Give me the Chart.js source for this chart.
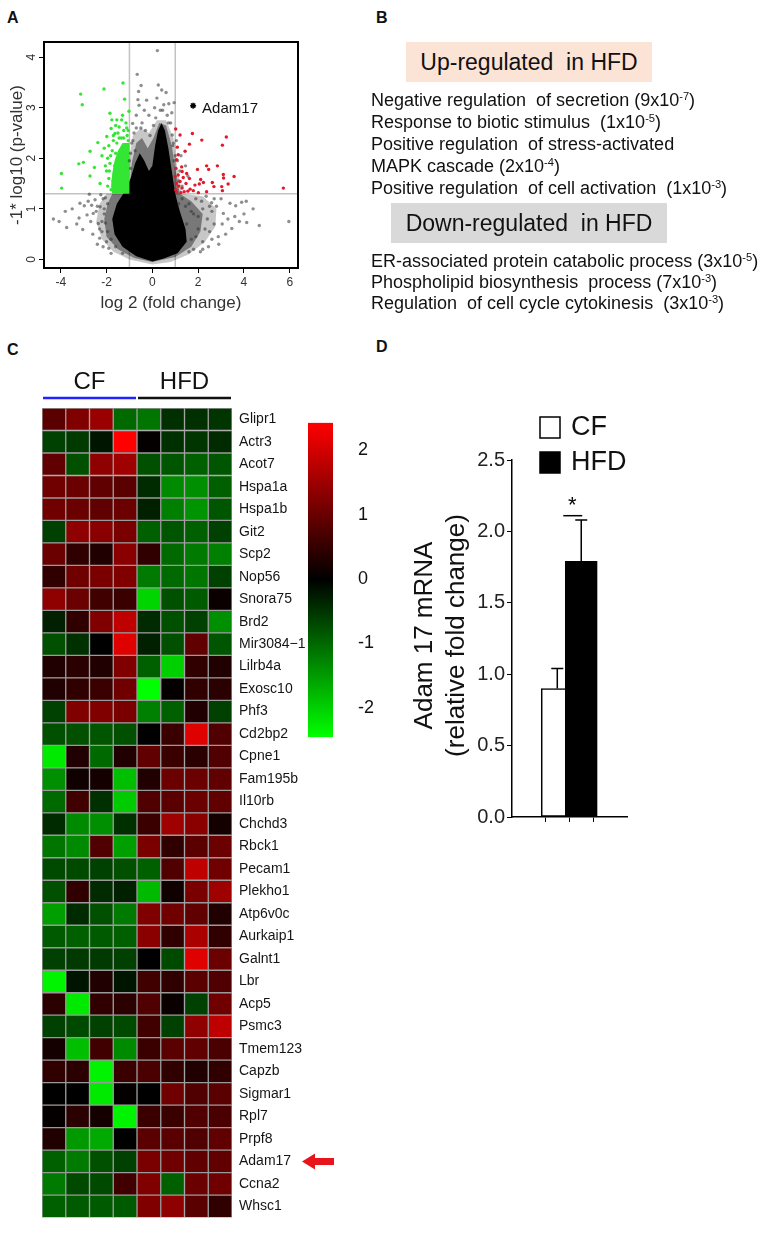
<!DOCTYPE html>
<html>
<head>
<meta charset="utf-8">
<script src="https://cdn.jsdelivr.net/npm/chart.js"></script>
<style>
body { margin: 0; background: #fff; font-family: "Liberation Sans", Arial, sans-serif; color: #111; }
#page { position: relative; width: 765px; height: 1233px; overflow: hidden; }
.box { position: absolute; }
.plabel { position: absolute; font-weight: bold; font-size: 16px; line-height: 18px; }
.head { position: absolute; height: 40px; line-height: 40px; text-align: center; font-size: 23px; }
.terms { position: absolute; left: 371px; font-size: 18px; white-space: nowrap; }
.terms div { height: 22px; line-height: 22px; }
sup { font-size: 0.62em; line-height: 0; vertical-align: 0.55em; }
</style>
</head>
<body>
<div id="page">
  <div class="plabel" style="left:7px;top:9px">A</div>
  <div class="plabel" style="left:376px;top:9px">B</div>
  <div class="plabel" style="left:7px;top:341px">C</div>
  <div class="plabel" style="left:376px;top:338px">D</div>

  <div class="box" style="left:0;top:0"><canvas id="volcano" width="380" height="320"></canvas></div>

  <div class="head" style="left:406px;top:42px;width:246px;background:#fbe4d6">Up-regulated&nbsp; in HFD</div>
  <div class="terms" style="top:89px">
    <div>Negative regulation&nbsp; of secretion (9x10<sup>-7</sup>)</div>
    <div>Response to biotic stimulus&nbsp; (1x10<sup>-5</sup>)</div>
    <div>Positive regulation&nbsp; of stress-activated</div>
    <div>MAPK cascade (2x10<sup>-4</sup>)</div>
    <div>Positive regulation&nbsp; of cell activation&nbsp; (1x10<sup>-3</sup>)</div>
  </div>
  <div class="head" style="left:391px;top:203px;width:276px;background:#d9d9d9">Down-regulated&nbsp; in HFD</div>
  <div class="terms" style="top:251px">
    <div style="height:21px;line-height:21px">ER-associated protein catabolic process (3x10<sup>-5</sup>)</div>
    <div style="height:21px;line-height:21px">Phospholipid biosynthesis&nbsp; process (7x10<sup>-3</sup>)</div>
    <div style="height:21px;line-height:21px">Regulation&nbsp; of cell cycle cytokinesis&nbsp; (3x10<sup>-3</sup>)</div>
  </div>

  <div class="box" style="left:0;top:360px"><canvas id="heatmap" width="340" height="873"></canvas></div>
  <div class="box" style="left:290px;top:395px"><canvas id="colorbar" width="90" height="370"></canvas></div>
  <div class="box" style="left:380px;top:320px"><canvas id="bars" width="385" height="520"></canvas></div>
</div>

<script>
const FONT = '"Liberation Sans", Arial, sans-serif';
Chart.defaults.font.family = FONT;
Chart.defaults.color = '#111';

// ---------- A: volcano ----------
const xTicksA = [-4, -2, 0, 2, 4, 6];
const yTicksA = [0, 1, 2, 3, 4];
const foldCut = [-1, 1];
const pCut = 1.3;

// log2 fold change, -log10 p
const grayPoints = [
  [0.22,4.13],[-0.66,3.66],[-0.49,3.44],[-0.6,3.32],[-0.63,3.16],[-0.58,3.05],[-0.86,2.69],[-0.8,2.5],
  [0.26,3.45],[0.41,3.35],[0.2,3.19],[0.5,3.06],[0.72,3.08],[0.95,3.1],[0.87,2.46],[0.65,2.85],
  [0.8,2.7],[0.1,3.0],[-0.15,2.85],[-0.35,2.95],[-0.7,2.85],[-0.45,2.7],[0.35,2.95],[0.9,2.25],
  [-0.9,2.3],[-0.75,2.15],[0.95,1.95],[-0.95,1.8],[0.6,3.3],[-0.25,3.15],
  [-4.32,0.8],[-4.07,0.75],[-3.74,0.63],[-3.2,0.82],[-3.04,0.59],[-3.16,1.11],[-2.97,1.06],[-2.65,1.07],
  [-2.75,1.29],[-2.58,0.91],[-2.69,0.75],[-2.36,0.71],[-2.28,1.04],[-2.1,0.9],[-2.2,0.55],[-2.0,0.35],
  [-2.45,0.95],[-2.5,1.18],[-2.15,1.2],[-1.95,1.1],[-2.3,0.42],[-1.9,0.22],[-2.05,0.72],[-3.5,1.0],
  [-2.85,0.88],[-2.6,0.5],[-3.3,0.7],[-2.4,0.3],[-1.8,0.12],[-2.15,0.25],[-2.8,1.15],[-3.8,0.95],
  [2.59,1.12],[3.39,1.11],[3.9,1.13],[3.64,1.06],[4.12,0.73],[4.67,0.67],[5.96,0.75],[3.47,0.61],
  [2.88,0.45],[3.1,0.91],[2.2,1.0],[2.4,0.8],[2.0,0.6],[1.8,0.9],[2.7,0.7],[3.0,1.2],
  [2.5,0.55],[1.7,0.4],[2.2,0.35],[1.9,1.2],[2.8,1.05],[3.3,0.8],[4.4,1.0],[4.1,1.15],
  [2.35,1.25],[1.6,1.1],[1.5,0.7],[3.6,0.85],[2.9,0.3],[3.2,0.5],[2.6,0.95],[2.1,0.15],
  [1.8,0.2],[3.8,0.75],[2.45,0.25],[4.0,0.9],
  [1.1,1.95],[1.25,2.05],[1.15,1.55],[1.45,1.85],[1.05,2.35],[1.3,1.45],[1.55,1.65],[1.2,1.75],
  [-2.3,0.6],[-2.2,0.75],[-2.4,1.05],[-1.95,0.55],[-2.1,1.0],[-1.8,0.4],[-1.6,0.25],[-1.3,0.12],
  [-2.25,1.28],[-2.05,1.22],[-1.0,1.95],[-0.95,2.1],[-0.85,2.35],[-0.7,2.6],[-0.5,2.6],[-0.3,2.55],
  [-0.1,2.45],[0.05,2.65],[0.15,2.8],[0.45,2.95],[0.7,2.7],[0.85,2.9],[0.92,2.3],[1.0,2.05],
  [1.3,1.2],[1.45,1.05],[1.7,0.95],[2.0,0.85],[2.3,0.6],[2.6,0.4],[2.2,0.2],[1.6,0.15],
  [2.5,1.05],[1.9,0.45],[2.7,1.2],[3.05,0.7],[1.15,1.1],[2.15,1.15]
];
const greenPoints = [
  [-3.13,3.27],[-3.06,3.06],[-2.11,3.37],[-1.28,3.49],[-1.21,3.17],[-1.02,2.93],[-3.97,1.7],[-3.96,1.41],
  [-3.21,1.89],[-3.01,1.92],[-2.72,2.14],[-2.72,1.65],[-2.53,1.82],[-2.28,1.5],[-2.38,2.31],[-2.2,2.05],
  [-1.85,2.89],[-1.77,2.76],[-1.55,2.76],[-1.34,2.76],[-1.8,2.59],[-1.63,2.49],[-1.99,2.43],[-1.45,2.62],
  [-1.25,2.55],[-1.15,2.7],[-1.7,2.35],[-1.9,2.25],[-1.55,2.3],[-1.35,2.4],[-1.1,2.45],[-1.95,2.0],
  [-1.85,1.9],[-2.0,1.75],[-1.9,1.6],[-1.95,1.45],[-1.8,1.38],[-2.05,1.85],[-1.75,2.15],[-1.6,2.1],
  [-1.65,1.85],[-1.72,1.55],[-1.5,2.5],[-1.2,2.2],[-1.05,2.35],[-1.3,2.85],[-1.6,2.65],[-1.4,2.15],
  [-2.1,2.2],[-1.82,2.05],[-1.12,2.6],[-1.88,1.75],[-1.7,2.45],[-1.45,2.4],[-1.25,2.4],[-1.05,2.55]
];
const redPoints = [
  [1.02,2.58],[1.21,2.46],[1.75,2.49],[2.16,2.36],[3.23,2.42],[3.06,2.26],[1.62,2.28],[1.09,2.22],
  [1.43,2.14],[1.13,2.07],[1.06,1.97],[1.28,1.83],[1.03,1.8],[2.37,1.85],[2.84,1.85],[2.46,1.78],
  [1.97,1.78],[1.3,1.74],[1.13,1.67],[1.35,1.62],[0.99,1.64],[3.1,1.68],[3.57,1.64],[3.11,1.61],
  [1.62,1.6],[2.11,1.58],[1.21,1.54],[1.47,1.5],[1.86,1.47],[2.05,1.49],[2.23,1.52],[2.62,1.52],
  [3.31,1.49],[2.69,1.44],[3.03,1.44],[3.06,1.36],[1.3,1.41],[1.65,1.39],[1.06,1.34],[1.39,1.34],
  [1.79,1.36],[2.01,1.32],[2.37,1.34],[5.72,1.41],[1.15,1.45],[1.5,1.7],[1.05,1.5],[1.25,1.32],
  [1.55,1.35],[1.02,1.38]
];
const adamPoint = [1.78, 3.04];
// outlines of the solid clouds of points
const outerCloud = [
  [0,-0.1],[-1.0,0.0],[-1.7,0.15],[-2.2,0.4],[-2.45,0.75],[-2.3,1.1],[-2.0,1.3],[-1.0,1.3],
  [-1.0,2.0],[-0.85,2.45],[-0.5,2.6],[-0.15,2.5],[0.2,2.75],[0.6,2.75],[0.92,2.4],[1.02,2.0],
  [1.3,1.3],[2.2,1.25],[2.8,1.0],[2.75,0.65],[2.3,0.35],[1.6,0.1],[0.8,-0.05]
];
const innerCloud = [
  [0,-0.05],[-0.8,0.03],[-1.5,0.2],[-2.0,0.45],[-2.1,0.8],[-1.95,1.1],[-1.75,1.3],[-1.0,1.3],
  [-0.9,1.9],[-0.7,2.3],[-0.45,2.4],[-0.2,2.2],[0.05,2.4],[0.3,2.7],[0.6,2.65],[0.85,2.25],
  [1.0,1.8],[1.2,1.3],[1.7,1.15],[2.2,0.9],[2.1,0.55],[1.7,0.25],[1.0,0.05]
];
const coreCloud = [
  [0,-0.04],[-0.7,0.06],[-1.3,0.25],[-1.65,0.5],[-1.75,0.8],[-1.55,1.1],[-1.2,1.35],[-0.95,1.6],
  [-0.75,1.9],[-0.55,2.1],[-0.35,1.95],[-0.15,1.75],[0.0,1.85],[0.12,2.25],[0.25,2.55],[0.4,2.7],
  [0.55,2.55],[0.7,2.2],[0.85,1.75],[1.0,1.3],[1.2,0.95],[1.45,0.6],[1.5,0.35],[1.1,0.12],[0.5,0.02]
];
const greenCloud = [
  [-1.0,1.3],[-1.75,1.3],[-1.8,1.45],[-1.75,1.7],[-1.65,1.95],[-1.5,2.15],[-1.3,2.3],[-1.0,2.3]
];

const toXY = pts => pts.map(p => ({x: p[0], y: p[1]}));

const volcanoPlugin = {
  id: 'volcanoPlugin',
  beforeDatasetsDraw(chart) {
    const {ctx, chartArea: a, scales: {x, y}} = chart;
    ctx.save();
    ctx.beginPath();
    ctx.rect(a.left, a.top, a.width, a.height);
    ctx.clip();
    ctx.strokeStyle = '#c2c2c2';
    ctx.lineWidth = 1.5;
    foldCut.forEach(v => {
      const px = x.getPixelForValue(v);
      ctx.beginPath(); ctx.moveTo(px, a.top); ctx.lineTo(px, a.bottom); ctx.stroke();
    });
    const py = y.getPixelForValue(pCut);
    ctx.beginPath(); ctx.moveTo(a.left, py); ctx.lineTo(a.right, py); ctx.stroke();
    const poly = (pts, fill) => {
      ctx.beginPath();
      pts.forEach((p, i) => {
        const px2 = x.getPixelForValue(p[0]), py2 = y.getPixelForValue(p[1]);
        if (i === 0) ctx.moveTo(px2, py2); else ctx.lineTo(px2, py2);
      });
      ctx.closePath();
      ctx.fillStyle = fill;
      ctx.fill();
    };
    poly(outerCloud, 'rgba(0,0,0,0.22)');
    poly(innerCloud, 'rgba(0,0,0,0.4)');
    poly(coreCloud, '#000');
    poly(greenCloud, '#33e633');
    ctx.restore();
  },
  afterDatasetsDraw(chart) {
    const {ctx, chartArea: a, scales: {x, y}} = chart;
    ctx.save();
    ctx.strokeStyle = '#000';
    ctx.lineWidth = 2;
    ctx.strokeRect(a.left, a.top, a.width, a.height);
    // rotated y tick labels, R style
    ctx.fillStyle = '#333';
    ctx.font = '12px ' + FONT;
    ctx.textAlign = 'center';
    ctx.textBaseline = 'middle';
    yTicksA.forEach(v => {
      ctx.save();
      ctx.translate(a.left - 12, y.getPixelForValue(v));
      ctx.rotate(-Math.PI / 2);
      ctx.fillText(String(v), 0, 0);
      ctx.restore();
    });
    ctx.fillStyle = '#111';
    ctx.font = '15px ' + FONT;
    ctx.textAlign = 'left';
    ctx.fillText('Adam17', x.getPixelForValue(adamPoint[0]) + 9, y.getPixelForValue(adamPoint[1]) + 3);
    ctx.restore();
  }
};

new Chart(document.getElementById('volcano'), {
  type: 'scatter',
  data: {
    datasets: [
      {data: [{x: adamPoint[0], y: adamPoint[1]}], pointStyle: 'star', pointRadius: 3, borderColor: '#000', borderWidth: 1.5, order: 0},
      {data: toXY(redPoints), backgroundColor: '#e3192b', borderWidth: 0, pointRadius: 1.7, order: 1},
      {data: toXY(greenPoints), backgroundColor: '#33e633', borderWidth: 0, pointRadius: 1.7, order: 2},
      {data: toXY(grayPoints), backgroundColor: 'rgba(50,50,50,0.55)', borderWidth: 0, pointRadius: 1.7, order: 3}
    ]
  },
  options: {
    responsive: false,
    animation: false,
    layout: {padding: {left: 0, top: 42, right: 82, bottom: 0}},
    plugins: {legend: {display: false}, tooltip: {enabled: false}},
    scales: {
      x: {
        type: 'linear', min: -4.73, max: 6.36,
        afterBuildTicks: s => { s.ticks = xTicksA.map(v => ({value: v})); },
        afterFit: s => { s.height = 52; },
        grid: {drawOnChartArea: false, tickLength: 5, color: '#000'},
        border: {display: false},
        ticks: {font: {size: 12}, color: '#333', padding: 2, maxRotation: 0},
        title: {display: true, text: 'log 2 (fold change)', font: {size: 17}, color: '#333', padding: {top: 0, bottom: 6}}
      },
      y: {
        type: 'linear', min: -0.17, max: 4.3,
        afterBuildTicks: s => { s.ticks = yTicksA.map(v => ({value: v})); },
        afterFit: s => { s.width = 44; },
        grid: {drawOnChartArea: false, tickLength: 5, color: '#000'},
        border: {display: false},
        ticks: {display: false},
        title: {display: true, text: '-1* log10 (p-value)', font: {size: 17}, color: '#333', padding: {top: 7, bottom: 0}}
      }
    }
  },
  plugins: [volcanoPlugin]
});

// ---------- C: heat map ----------
const genes = ['Glipr1','Actr3','Acot7','Hspa1a','Hspa1b','Git2','Scp2','Nop56','Snora75','Brd2',
  'Mir3084\u22121','Lilrb4a','Exosc10','Phf3','Cd2bp2','Cpne1','Fam195b','Il10rb','Chchd3','Rbck1',
  'Pecam1','Plekho1','Atp6v0c','Aurkaip1','Galnt1','Lbr','Acp5','Psmc3','Tmem123','Capzb',
  'Sigmar1','Rpl7','Prpf8','Adam17','Ccna2','Whsc1'];
const samples = ['CF1','CF2','CF3','CF4','HFD1','HFD2','HFD3','HFD4'];
const groups = ['CF', 'HFD'];
const groupColors = ['#2222ff', '#111111'];
const markedGene = 'Adam17';
// z-scores, one row per gene, columns CF1..CF4, HFD1..HFD4
const heatValues = [
  [0.85,1.2,1.45,-1.0,-1.1,-0.45,-0.45,-0.5],
  [-0.6,-0.55,-0.2,2.4,0.05,-0.45,-0.5,-0.4],
  [0.9,-0.75,1.35,1.5,-0.75,-0.8,-0.9,-0.8],
  [1.05,1.0,0.9,0.85,-0.4,-1.3,-1.35,-0.9],
  [1.05,1.0,0.9,1.0,-0.3,-1.2,-1.4,-0.8],
  [-0.6,1.35,1.3,1.15,-0.9,-0.8,-0.9,-0.6],
  [1.0,0.45,0.3,1.3,0.45,-1.0,-1.15,-1.2],
  [0.45,1.05,1.15,1.2,-1.15,-1.0,-1.1,-0.6],
  [1.35,1.0,0.6,0.55,-2.0,-0.75,-0.85,0.1],
  [-0.3,0.45,1.2,1.8,-0.4,-0.75,-0.6,-1.35],
  [-0.75,-0.45,0.0,2.1,-0.3,-0.75,0.9,-0.8],
  [0.3,0.4,0.3,1.2,-0.9,-1.95,0.45,0.3],
  [0.3,0.45,0.55,1.05,-2.4,0.05,0.45,0.4],
  [-0.6,1.2,1.2,1.15,-1.2,-0.9,0.3,-0.6],
  [-0.75,-0.75,-0.8,-0.75,0.0,0.55,2.1,0.75],
  [-2.2,0.3,-1.0,0.3,0.9,0.55,0.4,0.75],
  [-1.35,0.15,0.2,-1.8,0.3,1.0,1.0,0.9],
  [-1.0,0.6,-0.45,-1.9,0.75,0.85,1.0,0.9],
  [-0.4,-1.3,-1.35,-0.45,0.55,1.5,1.3,0.2],
  [-1.1,-1.3,0.75,-1.5,1.15,0.45,0.85,1.0],
  [-0.7,-0.7,-0.6,-0.75,-0.9,0.75,1.8,1.05],
  [-0.75,0.45,-0.4,-0.3,-1.75,0.15,1.15,1.5],
  [-1.5,-0.4,-0.75,-1.15,1.2,1.05,0.9,0.3],
  [-0.85,-0.9,-0.85,-0.9,1.3,0.45,1.6,0.45],
  [-0.6,-0.55,-0.55,-0.6,0.0,-0.7,2.1,1.0],
  [-2.3,-0.2,0.3,-0.2,0.6,0.45,0.85,0.75],
  [0.4,-2.2,0.45,0.4,0.75,0.1,-0.6,1.05],
  [-0.6,-0.7,-0.6,-0.7,0.6,-0.6,1.35,1.8],
  [0.2,-1.8,0.6,-1.3,0.55,0.85,0.9,0.7],
  [0.45,0.4,-2.3,0.55,0.7,0.45,0.3,0.45],
  [0.0,0.0,-2.2,0.05,0.0,1.05,0.75,0.85],
  [0.05,0.4,0.2,-2.3,0.55,0.55,0.75,0.7],
  [0.3,-1.45,-1.6,0.0,0.85,0.85,0.75,0.9],
  [-0.9,-1.15,-0.75,-0.6,1.15,1.05,0.9,0.9],
  [-1.15,-0.7,-0.7,0.6,1.2,-0.9,1.0,1.05],
  [-0.9,-0.85,-0.85,-0.85,1.2,1.35,0.85,0.45]
];
const colorLimit = 2.4;
const colorbarRange = [-2.46, 2.43];
const colorbarTicks = [-2, -1, 0, 1, 2];

function heatColor(z) {
  const t = Math.min(Math.abs(z) / colorLimit, 1);
  const c = Math.round(255 * t);
  return z >= 0 ? `rgb(${c},0,0)` : `rgb(0,${c},0)`;
}

const heatPlugin = {
  id: 'heatPlugin',
  afterDraw(chart) {
    const {ctx, chartArea: a, scales: {x, y}} = chart;
    ctx.save();
    ctx.font = '24px ' + FONT;
    ctx.textAlign = 'center';
    ctx.textBaseline = 'middle';
    groups.forEach((g, i) => {
      const x0 = x.getPixelForValue(i * 4), x1 = x.getPixelForValue(i * 4 + 4);
      ctx.fillStyle = '#111';
      ctx.fillText(g, (x0 + x1) / 2, a.top - 26);
      ctx.strokeStyle = groupColors[i];
      ctx.lineWidth = 2.5;
      ctx.beginPath();
      ctx.moveTo(x0 + 1, a.top - 10);
      ctx.lineTo(x1 - 1, a.top - 10);
      ctx.stroke();
    });
    // red arrow pointing at the marked gene
    const ay = y.getPixelForValue(genes.indexOf(markedGene));
    const tip = a.right + 70;
    ctx.fillStyle = '#e8141c';
    ctx.beginPath();
    ctx.moveTo(tip, ay);
    ctx.lineTo(tip + 13, ay - 8);
    ctx.lineTo(tip + 13, ay - 3.5);
    ctx.lineTo(tip + 32, ay - 3.5);
    ctx.lineTo(tip + 32, ay + 3.5);
    ctx.lineTo(tip + 13, ay + 3.5);
    ctx.lineTo(tip + 13, ay + 8);
    ctx.closePath();
    ctx.fill();
    ctx.restore();
  }
};

new Chart(document.getElementById('heatmap'), {
  type: 'bar',
  data: {
    labels: genes,
    datasets: samples.map((s, j) => ({
      label: s,
      data: genes.map(() => 1),
      backgroundColor: heatValues.map(r => heatColor(r[j])),
      borderColor: '#9a9a9a',
      borderWidth: 1,
      borderSkipped: false,
      barPercentage: 1,
      categoryPercentage: 1
    }))
  },
  options: {
    indexAxis: 'y',
    responsive: false,
    animation: false,
    layout: {padding: {left: 42, top: 48, right: 0, bottom: 5}},
    plugins: {legend: {display: false}, tooltip: {enabled: false}},
    scales: {
      x: {type: 'linear', stacked: true, min: 0, max: samples.length, display: false},
      y: {
        stacked: true, position: 'right',
        afterFit: s => { s.width = 108; },
        grid: {display: false, drawTicks: false},
        border: {display: false},
        ticks: {font: {size: 14}, color: '#151515', padding: 7, autoSkip: false}
      }
    }
  },
  plugins: [heatPlugin]
});

// colour key
new Chart(document.getElementById('colorbar'), {
  type: 'bar',
  data: {
    labels: ['key'],
    datasets: [{
      data: [colorbarRange],
      barPercentage: 1,
      categoryPercentage: 1,
      borderWidth: 0,
      backgroundColor: c => {
        const ch = c.chart;
        if (!ch.chartArea) return '#000';
        const y = ch.scales.y;
        const top = y.getPixelForValue(colorbarRange[1]), bot = y.getPixelForValue(colorbarRange[0]);
        const g = ch.ctx.createLinearGradient(0, top, 0, bot);
        g.addColorStop(0, heatColor(colorbarRange[1]));
        g.addColorStop((y.getPixelForValue(0) - top) / (bot - top), '#000');
        g.addColorStop(1, heatColor(colorbarRange[0]));
        return g;
      }
    }]
  },
  options: {
    responsive: false,
    animation: false,
    layout: {padding: {left: 18, top: 15, right: 0, bottom: 13}},
    plugins: {legend: {display: false}, tooltip: {enabled: false}},
    scales: {
      x: {display: false},
      y: {
        min: colorbarRange[0], max: colorbarRange[1], position: 'right',
        afterBuildTicks: s => { s.ticks = colorbarTicks.map(v => ({value: v})); },
        afterFit: s => { s.width = 47; },
        grid: {display: false},
        border: {display: false},
        ticks: {font: {size: 18}, color: '#111', padding: 17}
      }
    }
  }
});

// ---------- D: Adam17 qPCR ----------
const groupsD = ['CF', 'HFD'];
const meanD = [0.90, 1.79];
const semD = [0.14, 0.29];
const fillD = ['#ffffff', '#000000'];
const sigLevel = 2.11;
const yTitleD = ['Adam 17 mRNA', '(relative fold change)'];

const barPlugin = {
  id: 'barPlugin',
  afterDatasetsDraw(chart) {
    const {ctx, chartArea: a, scales: {y}} = chart;
    const bars = chart.getDatasetMeta(0).data;
    ctx.save();
    ctx.strokeStyle = '#000';
    ctx.lineWidth = 1.5;
    bars.forEach((b, i) => {
      const top = y.getPixelForValue(meanD[i] + semD[i]);
      ctx.beginPath();
      ctx.moveTo(b.x, b.y); ctx.lineTo(b.x, top);
      ctx.moveTo(b.x - 6, top); ctx.lineTo(b.x + 6, top);
      ctx.stroke();
    });
    const sy = y.getPixelForValue(sigLevel);
    ctx.beginPath();
    ctx.moveTo(bars[0].x + 6, sy); ctx.lineTo(bars[1].x + 1, sy);
    ctx.stroke();
    ctx.fillStyle = '#000';
    ctx.font = '22px ' + FONT;
    ctx.textAlign = 'center';
    ctx.textBaseline = 'middle';
    ctx.fillText('*', (bars[0].x + bars[1].x) / 2 + 3, sy - 10);
    // legend
    ctx.font = '27px ' + FONT;
    ctx.textAlign = 'left';
    groupsD.forEach((g, i) => {
      const top = a.top - 43 + i * 35;
      ctx.fillStyle = fillD[i];
      ctx.fillRect(a.left + 28, top, 20, 21);
      ctx.strokeRect(a.left + 28, top, 20, 21);
      ctx.fillStyle = '#111';
      ctx.fillText(g, a.left + 59, top + 11);
    });
    // two-line y title
    ctx.font = '26px ' + FONT;
    ctx.textAlign = 'center';
    yTitleD.forEach((t, i) => {
      ctx.save();
      ctx.translate(a.left - 87 + i * 32, (a.top + a.bottom) / 2 - 3);
      ctx.rotate(-Math.PI / 2);
      ctx.fillText(t, 0, 0);
      ctx.restore();
    });
    ctx.restore();
  }
};

new Chart(document.getElementById('bars'), {
  type: 'bar',
  data: {
    datasets: [{
      data: groupsD.map((g, i) => ({x: i + 1, y: meanD[i]})),
      backgroundColor: fillD,
      borderColor: '#000',
      borderWidth: 1.5,
      borderSkipped: false,
      barThickness: 32
    }]
  },
  options: {
    responsive: false,
    animation: false,
    layout: {padding: {left: 0, top: 140, right: 138, bottom: 0}},
    plugins: {legend: {display: false}, tooltip: {enabled: false}},
    scales: {
      x: {
        type: 'linear', min: 0.31, max: 2.71,
        afterBuildTicks: s => { s.ticks = groupsD.map((g, i) => ({value: i + 1})); },
        afterFit: s => { s.height = 23; },
        grid: {drawOnChartArea: false, tickLength: 5, color: '#000'},
        border: {color: '#000', width: 1.5},
        ticks: {display: false}
      },
      y: {
        min: 0, max: 2.5,
        ticks: {stepSize: 0.5, callback: v => v.toFixed(1), font: {size: 20}, color: '#222', padding: 2},
        afterFit: s => { s.width = 132; },
        grid: {drawOnChartArea: false, tickLength: 5, color: '#000'},
        border: {color: '#000', width: 1.5}
      }
    }
  },
  plugins: [barPlugin]
});
</script>
</body>
</html>
